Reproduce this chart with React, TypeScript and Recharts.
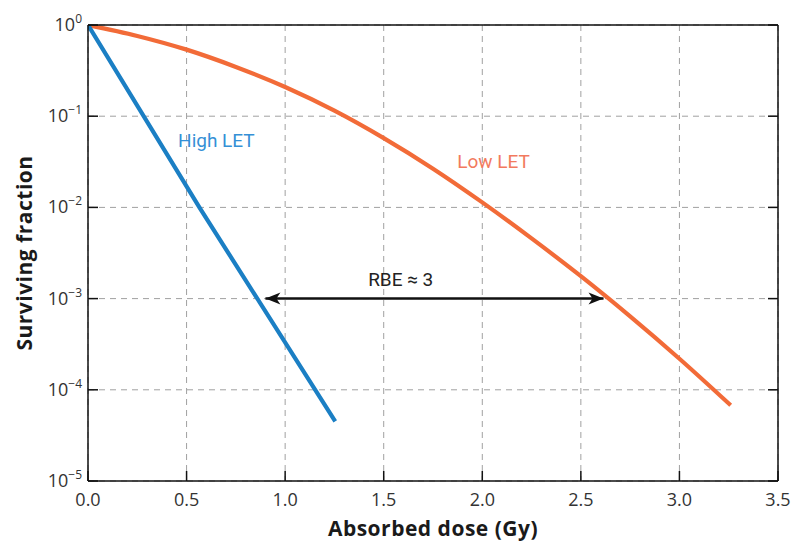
import React from 'react';
import { LineChart, Line, XAxis, YAxis, CartesianGrid, ReferenceDot, Label } from 'recharts';

// ---- data ----
const doseTicks = [0, 0.5, 1, 1.5, 2, 2.5, 3, 3.5];
const fractionTicks = [1, 0.1, 0.01, 0.001, 0.0001, 0.00001];
const fractionExponents = ['0', '\u22121', '\u22122', '\u22123', '\u22124', '\u22125'];

const lowLetDose = [0, 0.25, 0.5, 0.75, 1.0, 1.25, 1.5, 1.75, 2.0, 2.25, 2.5, 2.75, 3.0, 3.26];
const lowLetSurvival = [1, 0.759, 0.537, 0.347, 0.209, 0.115, 0.0575, 0.0266, 0.01135, 0.00457, 0.00176, 0.000638, 0.000219, 0.0000676];

const highLetDose = [0, 0.565, 1.254];
const highLetSurvival = [1, 0.01, 0.000045];

const rbeDose = [0.9, 2.615];
const rbeSurvival = [0.001, 0.001];

const annotationText = ['High LET', 'Low LET', 'RBE \u2248 3'];
const annotationDose = [0.457, 1.873, 1.421];
const annotationSurvival = [0.0461, 0.02735, 0.001384];
const annotationColor = ['#3590d6', '#f27a5e', '#222222'];

const lowLetData = lowLetDose.map((x, i) => ({ x, y: lowLetSurvival[i] }));
const highLetData = highLetDose.map((x, i) => ({ x, y: highLetSurvival[i] }));
const rbeData = rbeDose.map((x, i) => ({ x, y: rbeSurvival[i] }));

const TICK_FONT = '"Open Sans", "Noto Sans", sans-serif';
const NOTE_FONT = 'Roboto, "Noto Sans", sans-serif';

const YTick = (props: any) => {
  const { x, y, payload } = props;
  const idx = fractionTicks.findIndex((t) => Math.abs(Math.log10(t) - Math.log10(payload.value)) < 1e-6);
  const exp = idx >= 0 ? fractionExponents[idx] : '';
  return (
    <text x={x} y={y + 6} textAnchor="end" fontFamily={TICK_FONT} fontSize={18} fill="#333">
      <tspan>10</tspan>
      <tspan dy={-8} fontSize={12}>{exp}</tspan>
    </text>
  );
};

const EmptyTick = () => <g />;

const ArrowDot = (props: any) => {
  const { cx, cy, index } = props;
  if (cx == null || cy == null) return <g key={`a${index}`} />;
  const d = index === 0 ? 1 : -1;
  const pts = `${cx},${cy} ${cx + d * 15},${cy - 6} ${cx + d * 11},${cy} ${cx + d * 15},${cy + 6}`;
  return <polygon key={`a${index}`} points={pts} fill="#111" stroke="none" />;
};

const XTitle = (props: any) => {
  const vb = props.viewBox || { x: 88, y: 481, width: 690, height: 61 };
  return (
    <text x={vb.x + vb.width / 2} y={vb.y + 55} textAnchor="middle" fontFamily={TICK_FONT}
      fontWeight={700} fontSize={21} letterSpacing={0.5} fill="#1a1a1a">Absorbed dose (Gy)</text>
  );
};

const YTitle = (props: any) => {
  const vb = props.viewBox || { x: 0, y: 25, width: 88, height: 456 };
  const cx = 32;
  const cy = vb.y + vb.height / 2;
  return (
    <text x={cx} y={cy} transform={`rotate(-90, ${cx}, ${cy})`} textAnchor="middle" fontFamily={TICK_FONT}
      fontWeight={700} fontSize={21} letterSpacing={0.5} fill="#1a1a1a">Surviving fraction</text>
  );
};

const makeNote = (i: number) => (props: any) => (
  <text x={props.cx} y={props.cy} textAnchor="start" fontFamily={NOTE_FONT} fontSize={19}
    fill={annotationColor[i]}>{annotationText[i]}</text>
);

export default function App() {
  return (
    <div style={{ position: 'absolute', left: 0, top: 0, background: '#fff' }}>
      <LineChart width={795} height={543} margin={{ top: 24, right: 16, bottom: 1, left: 0 }}>
        <CartesianGrid stroke="#a0a0a0" strokeDasharray="6 5" strokeWidth={1} />
        <XAxis type="number" dataKey="x" domain={[0, 3.5]} ticks={doseTicks} allowDataOverflow
          tickFormatter={(v: number) => v.toFixed(1)} height={61} tickSize={-10} tickMargin={22}
          axisLine={{ stroke: '#111', strokeWidth: 1.5 }} tickLine={{ stroke: '#111', strokeWidth: 1.5 }}
          tick={{ fontSize: 18, fill: '#333', fontFamily: TICK_FONT }}
          label={<Label content={XTitle} />} />
        <XAxis xAxisId="top" orientation="top" type="number" domain={[0, 3.5]} ticks={doseTicks}
          allowDataOverflow height={1} tickSize={-10} tick={EmptyTick}
          axisLine={{ stroke: '#111', strokeWidth: 1.5 }} tickLine={{ stroke: '#111', strokeWidth: 1.5 }} />
        <YAxis type="number" scale="log" domain={[0.00001, 1]} ticks={fractionTicks} allowDataOverflow
          width={88} tickSize={-10} tickMargin={16} tick={<YTick />}
          axisLine={{ stroke: '#111', strokeWidth: 1.5 }} tickLine={{ stroke: '#111', strokeWidth: 1.5 }}
          label={<Label content={YTitle} />} />
        <YAxis yAxisId="right" orientation="right" type="number" scale="log" domain={[0.00001, 1]}
          ticks={fractionTicks} allowDataOverflow width={1} tickSize={-10} tick={EmptyTick}
          axisLine={{ stroke: '#111', strokeWidth: 1.5 }} tickLine={{ stroke: '#111', strokeWidth: 1.5 }} />
        <Line data={lowLetData} dataKey="y" type="monotone" stroke="#f26b38" strokeWidth={4.2}
          dot={false} activeDot={false} isAnimationActive={false} />
        <Line data={highLetData} dataKey="y" type="linear" stroke="#1b7fc4" strokeWidth={4.2}
          dot={false} activeDot={false} isAnimationActive={false} />
        <Line data={rbeData} dataKey="y" type="linear" stroke="#111" strokeWidth={2.5}
          dot={ArrowDot} activeDot={false} isAnimationActive={false} />
        {annotationText.map((t, i) => (
          <ReferenceDot key={t} x={annotationDose[i]} y={annotationSurvival[i]} r={0}
            shape={makeNote(i)} ifOverflow="visible" />
        ))}
      </LineChart>
    </div>
  );
}
